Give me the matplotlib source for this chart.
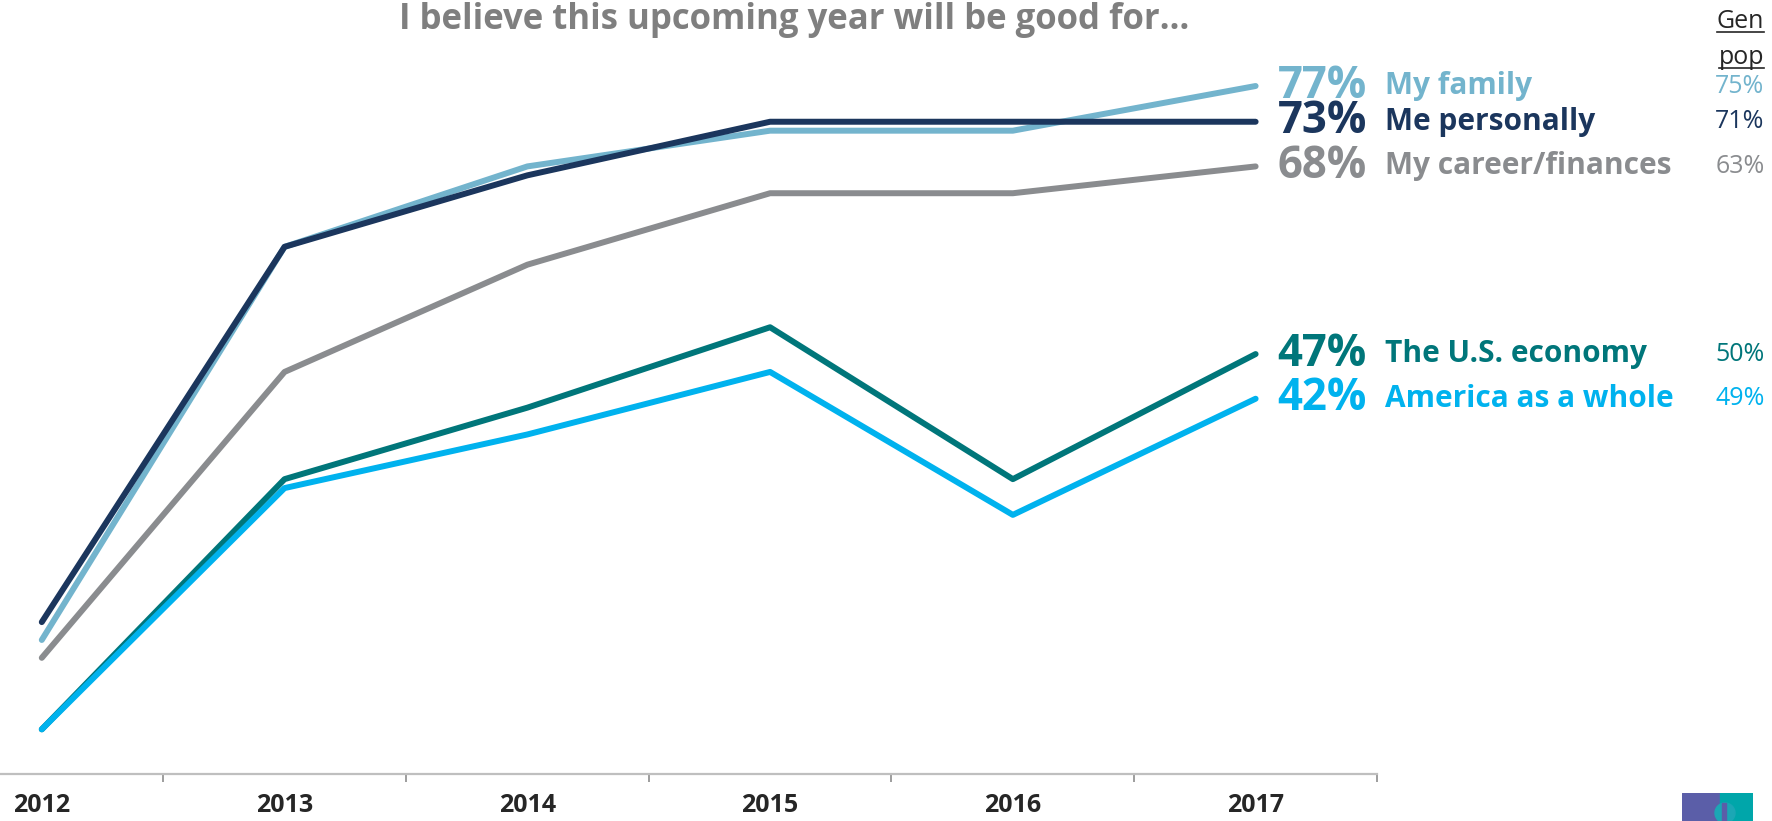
import matplotlib
matplotlib.use("Agg")
import matplotlib.pyplot as plt
from matplotlib.patches import Rectangle, Circle
from matplotlib.lines import Line2D

plt.rcParams["font.family"] = ["Open Sans", "DejaVu Sans"]

years = ["2012", "2013", "2014", "2015", "2016", "2017"]

# survey results, % saying the upcoming year will be good for...
family = [15, 59, 68, 72, 72, 77]
personally = [17, 59, 67, 73, 73, 73]
career = [13, 45, 57, 65, 65, 68]
economy = [5, 33, 41, 50, 33, 47]
america = [5, 32, 38, 45, 29, 42]

names = ["My family", "Me personally", "My career/finances",
         "The U.S. economy", "America as a whole"]
genpop = [75, 71, 63, 50, 49]
colors = ["#73B4CD", "#1B365D", "#8A8C8F", "#00767A", "#00B2EE"]

W, H = 1772, 821
fig = plt.figure(figsize=(W / 100, H / 100), dpi=100)

# axis area runs past the left edge of the figure
ax_left = -79.6 / W
ax_width = (1377 - -79.6) / W
ax_bottom = 1 - 774 / H
ax_height = 87 * 8.935 / H
ax = fig.add_axes([ax_left, ax_bottom, ax_width, ax_height])

x = list(range(len(years)))
series = [family, personally, career, economy, america]
# draw in back-to-front order so family sits above personally
draw_order = [2, 4, 3, 1, 0]
for i in draw_order:
    ax.plot(x, series[i], color=colors[i], lw=4.3, solid_capstyle="round",
            solid_joinstyle="round", clip_on=False, zorder=3 + i * 0.1)

ax.set_xlim(-0.5, 5.5)
ax.set_ylim(0, 87)
for side in ["top", "right", "left"]:
    ax.spines[side].set_visible(False)
ax.spines["bottom"].set_color("#BFBFBF")
ax.spines["bottom"].set_linewidth(1.6)
ax.set_yticks([])
ax.set_xticks([i - 0.5 for i in range(len(years) + 1)])
ax.set_xticklabels([])
ax.tick_params(axis="x", length=6, width=1.2, color="#8C8C8C", direction="out")
ax.set_xticks(x, minor=True)
ax.set_xticklabels(years, minor=True, fontsize=18, fontweight="bold", color="#262626")
ax.tick_params(axis="x", which="minor", length=0, pad=14)

# end labels for each series
for i in range(len(names)):
    v = series[i][-1]
    ax.annotate(f"{v}%", xy=(5, v), xytext=(22, 0), textcoords="offset pixels",
                ha="left", va="center", fontsize=31.5, fontweight="bold",
                color=colors[i], annotation_clip=False)
    ax.annotate(names[i], xy=(5, v), xytext=(129, 0), textcoords="offset pixels",
                ha="left", va="center", fontsize=21.5, fontweight="bold",
                color=colors[i], annotation_clip=False)
    ax.annotate(f"{genpop[i]}%", xy=(5, v), xytext=(509, 0), textcoords="offset pixels",
                ha="right", va="center", fontsize=18, color=colors[i],
                annotation_clip=False)

# Gen pop header, underlined
hdr = []
for txt, ypx in [("Gen", 22), ("pop", 58)]:
    t = fig.text(1764 / W, 1 - ypx / H, txt, ha="right", va="center",
                 fontsize=18, color="#262626")
    hdr.append(t)

fig.text(794 / W, 1 - 20 / H, "I believe this upcoming year will be good for…",
         ha="center", va="center", fontsize=25, fontweight="bold", color="#7F7F7F")

fig.canvas.draw()
r = fig.canvas.get_renderer()
for t in hdr:
    bb = t.get_window_extent(renderer=r)
    yl = (bb.y0 + 2) / H
    fig.add_artist(Line2D([bb.x0 / W, bb.x1 / W], [yl, yl], color="#262626",
                          lw=1.2, transform=fig.transFigure))

# small logo in the corner
logo = fig.add_axes([1682 / W, 0, 71 / W, 28 / H])
logo.set_xlim(0, 71)
logo.set_ylim(0, 28)
logo.axis("off")
logo.add_patch(Rectangle((0, 0), 38, 28, color="#5B5EA8"))
logo.add_patch(Rectangle((38, 0), 33, 28, color="#00A6AA"))
logo.add_patch(Circle((43, 8), 10, color="#1BA7B5"))
logo.add_patch(Rectangle((40, 0), 4, 18, color="#5B5EA8"))

fig.savefig("out.png", dpi=100)
